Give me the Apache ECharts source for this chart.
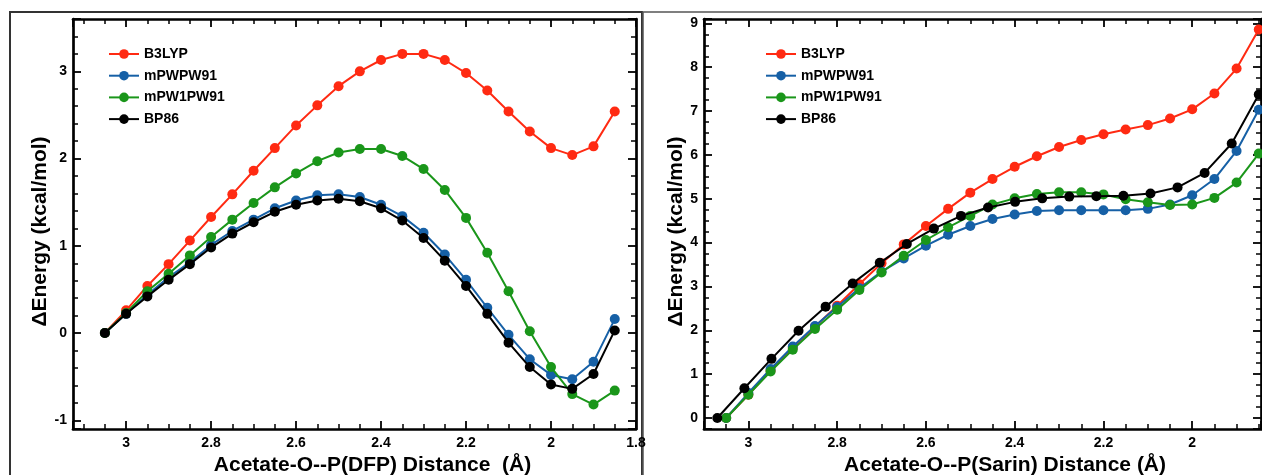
<!DOCTYPE html>
<html>
<head>
<meta charset="utf-8">
<script src="https://cdn.jsdelivr.net/npm/echarts@6.0.0/dist/echarts.min.js"></script>
<style>
html,body{margin:0;padding:0;background:#fff;}
#chart{width:1262px;height:475px;}
</style>
</head>
<body>
<div id="chart"></div>
<script>
// ---------- data ----------
const seriesNames = ['B3LYP', 'mPWPW91', 'mPW1PW91', 'BP86'];
const seriesColors = ['#ff2a12', '#1660a6', '#1a961a', '#000000'];

// Left panel: DFP (x = Acetate-O--P distance, Å)
const dfpX = [3.05, 3.00, 2.95, 2.90, 2.85, 2.80, 2.75, 2.70, 2.65, 2.60, 2.55, 2.50, 2.45,
              2.40, 2.35, 2.30, 2.25, 2.20, 2.15, 2.10, 2.05, 2.00, 1.95, 1.90, 1.85];
const dfpB3LYP   = [0, 0.26, 0.54, 0.79, 1.06, 1.33, 1.59, 1.86, 2.12, 2.38, 2.61, 2.83, 3.00,
                    3.13, 3.20, 3.20, 3.13, 2.98, 2.78, 2.54, 2.31, 2.12, 2.04, 2.14, 2.54];
const dfpMPWPW91 = [0, 0.22, 0.44, 0.64, 0.81, 1.01, 1.17, 1.30, 1.43, 1.52, 1.58, 1.59, 1.56,
                    1.47, 1.34, 1.15, 0.90, 0.61, 0.29, -0.02, -0.30, -0.48, -0.53, -0.33, 0.16];
const dfpMPW1PW91 = [0, 0.23, 0.48, 0.68, 0.89, 1.10, 1.30, 1.49, 1.67, 1.83, 1.97, 2.07, 2.11,
                     2.11, 2.03, 1.88, 1.64, 1.32, 0.92, 0.48, 0.02, -0.39, -0.70, -0.82, -0.66];
const dfpBP86    = [0, 0.22, 0.42, 0.61, 0.79, 0.98, 1.14, 1.27, 1.39, 1.47, 1.52, 1.54, 1.51,
                    1.43, 1.29, 1.09, 0.83, 0.54, 0.22, -0.11, -0.39, -0.59, -0.64, -0.47, 0.03];

// Right panel: Sarin
const sarinX = [3.05, 3.00, 2.95, 2.90, 2.85, 2.80, 2.75, 2.70, 2.65, 2.60, 2.55, 2.50, 2.45,
                2.40, 2.35, 2.30, 2.25, 2.20, 2.15, 2.10, 2.05, 2.00, 1.95, 1.90, 1.85];
const sarinB3LYP   = [0, 0.53, 1.08, 1.60, 2.08, 2.56, 3.05, 3.53, 3.96, 4.38, 4.77, 5.14, 5.45,
                      5.73, 5.97, 6.18, 6.34, 6.47, 6.58, 6.68, 6.83, 7.04, 7.40, 7.97, 8.86];
const sarinMPWPW91 = [0, 0.57, 1.12, 1.63, 2.10, 2.53, 2.96, 3.34, 3.64, 3.93, 4.18, 4.38, 4.54,
                      4.64, 4.72, 4.74, 4.74, 4.74, 4.74, 4.77, 4.87, 5.08, 5.45, 6.09, 7.03];
const sarinMPW1PW91 = [0, 0.53, 1.06, 1.56, 2.03, 2.47, 2.92, 3.32, 3.70, 4.06, 4.35, 4.61, 4.87,
                       5.01, 5.11, 5.15, 5.15, 5.10, 4.99, 4.92, 4.86, 4.87, 5.02, 5.37, 6.03];
const sarinBP86X = [3.07, 3.009, 2.948, 2.887, 2.826, 2.765, 2.704, 2.643, 2.582, 2.521, 2.46,
                    2.399, 2.338, 2.277, 2.216, 2.155, 2.094, 2.033, 1.972, 1.911, 1.85];
const sarinBP86  = [0, 0.68, 1.35, 1.99, 2.54, 3.07, 3.54, 3.97, 4.32, 4.61, 4.80, 4.93, 5.01,
                    5.05, 5.06, 5.07, 5.12, 5.26, 5.59, 6.26, 7.38];

// axis texts
const xTitleLeft = 'Acetate-O--P(DFP) Distance  (Å)';
const xTitleRight = 'Acetate-O--P(Sarin) Distance (Å)';
const yTitle = 'ΔEnergy (kcal/mol)';

// ---------- helpers ----------
const FONT = 'Liberation Sans, Arial, Helvetica, sans-serif';
const pairs = (xs, ys) => xs.map((x, i) => [x, ys[i]]);
const fmtStep = (step) => (v) => {
  const r = Math.round(v / step);
  return Math.abs(v / step - r) < 1e-6 ? String(+(r * step).toFixed(2)) : '';
};

function xAxisDef(grid, min, max, position, showLabel, name, namePadLeft) {
  return {
    type: 'value', gridIndex: grid, min: min, max: max, inverse: true, position: position,
    minInterval: 0.2, maxInterval: 0.2,
    axisLine: { show: true, onZero: false, lineStyle: { color: '#000', width: 2.7 } },
    axisTick: { show: true, inside: true, length: 8, lineStyle: { color: '#000', width: 1.8 } },
    minorTick: { show: true, splitNumber: 4, length: 5, lineStyle: { color: '#000', width: 1.5 } },
    splitLine: { show: false },
    axisLabel: { show: showLabel, formatter: fmtStep(0.2), color: '#000', fontFamily: FONT,
                 fontWeight: 'bold', fontSize: 14, margin: 7 },
    name: name || '', nameLocation: 'middle', nameGap: 21,
    nameTextStyle: { color: '#000', fontFamily: FONT, fontWeight: 'bold', fontSize: 21,
                     padding: [0, 0, 0, namePadLeft || 0] }
  };
}
function yAxisDef(grid, min, max, position, showLabel, minorSplit, name, nameGap) {
  return {
    type: 'value', gridIndex: grid, min: min, max: max, position: position,
    minInterval: 1, maxInterval: 1,
    axisLine: { show: true, onZero: false, lineStyle: { color: '#000', width: 2.7 } },
    axisTick: { show: true, inside: true, length: 8, lineStyle: { color: '#000', width: 1.8 } },
    minorTick: { show: true, splitNumber: minorSplit, length: 5, lineStyle: { color: '#000', width: 1.5 } },
    splitLine: { show: false },
    axisLabel: { show: showLabel, formatter: fmtStep(1), color: '#000', fontFamily: FONT,
                 fontWeight: 'bold', fontSize: 14, margin: 6 },
    name: name || '', nameLocation: 'middle', nameGap: nameGap || 17,
    nameTextStyle: { color: '#000', fontFamily: FONT, fontWeight: 'bold', fontSize: 21,
                     padding: [0, 15, 0, 0] }
  };
}
function lineSeries(idx, xi, yi, xs, ys) {
  return {
    type: 'line', name: seriesNames[idx], xAxisIndex: xi, yAxisIndex: yi,
    data: pairs(xs, ys), symbol: 'circle', symbolSize: 10, clip: false,
    color: seriesColors[idx],
    lineStyle: { color: seriesColors[idx], width: 2 },
    itemStyle: { color: seriesColors[idx] },
    emphasis: { disabled: true }, z: 2 + idx
  };
}
function legendDef(left) {
  return {
    data: seriesNames, orient: 'vertical', left: left, top: 47, padding: 0,
    itemWidth: 30, itemHeight: 12, itemGap: 7.7, selectedMode: false,
    textStyle: { color: '#000', fontFamily: FONT, fontWeight: 'bold', fontSize: 14 }
  };
}

const chart = echarts.init(document.getElementById('chart'), null, { renderer: 'canvas' });
chart.setOption({
  animation: false,
  backgroundColor: '#fff',
  grid: [
    { left: 73, top: 19, width: 563, height: 410, containLabel: false, outerBoundsMode: 'none' },
    { left: 704, top: 19, width: 557, height: 410, containLabel: false, outerBoundsMode: 'none' }
  ],
  xAxis: [
    xAxisDef(0, 1.8, 3.125, 'bottom', true, xTitleLeft, 36),
    xAxisDef(0, 1.8, 3.125, 'top', false),
    xAxisDef(1, 1.845, 3.1, 'bottom', true, xTitleRight, 45),
    xAxisDef(1, 1.845, 3.1, 'top', false)
  ],
  yAxis: [
    yAxisDef(0, -1.1, 3.6, 'left', true, 5, yTitle, 14),
    yAxisDef(0, -1.1, 3.6, 'right', false, 5),
    yAxisDef(1, -0.25, 9.1, 'left', true, 4, yTitle, 17),
    yAxisDef(1, -0.25, 9.1, 'right', false, 4)
  ],
  legend: [legendDef(108), legendDef(765)],
  graphic: [
    { type: 'rect', shape: { x: 10, y: 12, width: 632, height: 520 }, silent: true,
      style: { fill: 'none', stroke: '#333', lineWidth: 2 } },
    { type: 'rect', shape: { x: 643, y: 12, width: 700, height: 520 }, silent: true,
      style: { fill: 'none', stroke: '#555', lineWidth: 1.5 } }
  ],
  series: [
    lineSeries(0, 0, 0, dfpX, dfpB3LYP),
    lineSeries(1, 0, 0, dfpX, dfpMPWPW91),
    lineSeries(2, 0, 0, dfpX, dfpMPW1PW91),
    lineSeries(3, 0, 0, dfpX, dfpBP86),
    lineSeries(0, 2, 2, sarinX, sarinB3LYP),
    lineSeries(1, 2, 2, sarinX, sarinMPWPW91),
    lineSeries(2, 2, 2, sarinX, sarinMPW1PW91),
    lineSeries(3, 2, 2, sarinBP86X, sarinBP86)
  ]
});
</script>
</body>
</html>
